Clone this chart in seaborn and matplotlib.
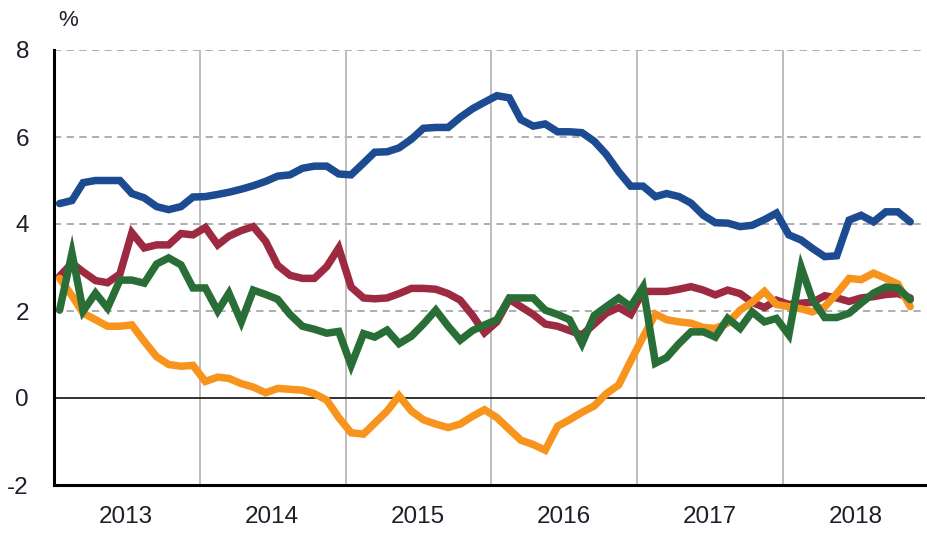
import numpy as np
import pandas as pd
import matplotlib
matplotlib.use("Agg")
import matplotlib.pyplot as plt
import matplotlib.dates as mdates
import seaborn as sns

# monthly readings, Jan 2013 .. Nov 2018 (in %)
blue = [4.47, 4.54, 4.95, 5.0, 5.0, 5.0, 4.7, 4.6, 4.4, 4.33, 4.4, 4.62,
        4.63, 4.68, 4.73, 4.8, 4.88, 4.98, 5.1, 5.13, 5.28, 5.33, 5.33, 5.15,
        5.13, 5.4, 5.65, 5.66, 5.75, 5.95, 6.2, 6.22, 6.22, 6.45, 6.65, 6.8,
        6.95, 6.9, 6.4, 6.25, 6.3, 6.12, 6.12, 6.1, 5.9, 5.6, 5.2, 4.87,
        4.87, 4.63, 4.7, 4.63, 4.48, 4.2, 4.03, 4.02, 3.94, 3.97, 4.1, 4.25,
        3.75, 3.63, 3.44, 3.25, 3.27, 4.09, 4.2, 4.05, 4.28, 4.28, 4.05]
red = [2.8, 3.1, 2.9, 2.7, 2.65, 2.85, 3.8, 3.45, 3.52, 3.52, 3.78, 3.75,
       3.92, 3.52, 3.72, 3.85, 3.94, 3.6, 3.05, 2.82, 2.75, 2.75, 3.02, 3.45,
       2.55, 2.3, 2.28, 2.3, 2.4, 2.52, 2.52, 2.5, 2.4, 2.25, 1.9, 1.5,
       1.75, 2.27, 2.1, 1.92, 1.7, 1.65, 1.55, 1.45, 1.7, 1.95, 2.08, 1.92,
       2.45, 2.45, 2.45, 2.5, 2.56, 2.48, 2.37, 2.48, 2.4, 2.2, 2.08, 2.25,
       2.15, 2.18, 2.2, 2.35, 2.3, 2.22, 2.3, 2.33, 2.38, 2.4, 2.3]
orange = [2.75, 2.35, 1.95, 1.8, 1.65, 1.65, 1.68, 1.3, 0.95, 0.77, 0.73, 0.75,
          0.38, 0.48, 0.45, 0.33, 0.25, 0.12, 0.22, 0.2, 0.18, 0.1, -0.05, -0.45,
          -0.8, -0.83, -0.58, -0.3, 0.05, -0.3, -0.5, -0.6, -0.68, -0.6, -0.42, -0.27,
          -0.45, -0.72, -0.97, -1.07, -1.2, -0.65, -0.5, -0.33, -0.18, 0.1, 0.3, 0.85,
          1.4, 1.93, 1.8, 1.75, 1.72, 1.62, 1.6, 1.72, 2.02, 2.2, 2.45, 2.15,
          2.1, 2.05, 1.98, 2.1, 2.4, 2.75, 2.72, 2.87, 2.75, 2.62, 2.1]
green = [2.02, 3.33, 2.0, 2.41, 2.07, 2.71, 2.71, 2.64, 3.08, 3.22, 3.06, 2.53,
         2.53, 2.0, 2.41, 1.75, 2.48, 2.38, 2.27, 1.92, 1.65, 1.58, 1.49, 1.53,
         0.75, 1.48, 1.4, 1.56, 1.25, 1.42, 1.7, 2.02, 1.65, 1.33, 1.55, 1.68,
         1.8, 2.3, 2.3, 2.3, 2.02, 1.92, 1.8, 1.25, 1.9, 2.1, 2.3, 2.1,
         2.55, 0.8, 0.93, 1.25, 1.52, 1.52, 1.4, 1.83, 1.6, 1.98, 1.75, 1.83,
         1.45, 3.0, 2.26, 1.85, 1.85, 1.95, 2.18, 2.41, 2.55, 2.53, 2.26]

months = pd.date_range("2013-01-01", periods=len(blue), freq="MS") + pd.Timedelta(days=14)
series = {"blue": blue, "red": red, "orange": orange, "green": green}
colors = {"blue": "#1d4b91", "red": "#9d2a40", "orange": "#f7941e", "green": "#2a6e37"}

df = pd.concat(
    [pd.DataFrame({"date": months, "value": vals, "series": name}) for name, vals in series.items()],
    ignore_index=True,
)

sns.set_style("white")
plt.rcParams["font.family"] = ["Liberation Sans", "DejaVu Sans"]

fig = plt.figure(figsize=(9.28, 5.34), dpi=100)
ax = fig.add_axes([54 / 928, 1 - 485 / 534, (925 - 54) / 928, (485 - 50) / 534])

# grid first so the lines sit on top
for y in [2, 4, 6, 8]:
    ax.axhline(y, color="#a8a8a8", lw=1.3, dashes=(4, 3), zorder=1)
for yr in range(2014, 2019):
    ax.axvline(pd.Timestamp(f"{yr}-01-01"), color="#b8b8b8", lw=1.3, zorder=1)
ax.axhline(0, color="#222222", lw=1.3, zorder=1)

sns.lineplot(data=df, x="date", y="value", hue="series", palette=colors,
             estimator=None, linewidth=5.4, legend=False, ax=ax, zorder=3)
for line in ax.lines:
    line.set_solid_joinstyle("miter")

ax.set_ylim(-2, 8)
ax.set_xlim(pd.Timestamp("2013-01-01"), pd.Timestamp("2018-12-22"))
ax.set_yticks([-2, 0, 2, 4, 6, 8])
ax.set_yticklabels(["-2", "0", "2", "4", "6", "8"])

ax.xaxis.set_major_locator(mdates.YearLocator())
ax.xaxis.set_major_formatter(plt.NullFormatter())
ax.xaxis.set_minor_locator(mdates.MonthLocator(bymonth=7, bymonthday=1))
ax.xaxis.set_minor_formatter(mdates.DateFormatter("%Y"))

ax.tick_params(axis="y", direction="in", length=6, width=1.6, color="black",
               labelsize=17.5, pad=18, labelcolor="#1e1e28")
ax.tick_params(axis="x", which="major", direction="in", length=6, width=1.6, color="black")
ax.tick_params(axis="x", which="minor", length=0, labelsize=17.5, pad=15, labelcolor="#1e1e28")

ax.set_xlabel("")
ax.set_ylabel("")
for side in ["top", "right"]:
    ax.spines[side].set_visible(False)
for side in ["left", "bottom"]:
    ax.spines[side].set_color("black")
    ax.spines[side].set_linewidth(2.2)

fig.text(68 / 928, 1 - 21 / 534, "%", ha="center", va="center", fontsize=16, color="#1e1e28")

fig.savefig("out.png", dpi=100)
